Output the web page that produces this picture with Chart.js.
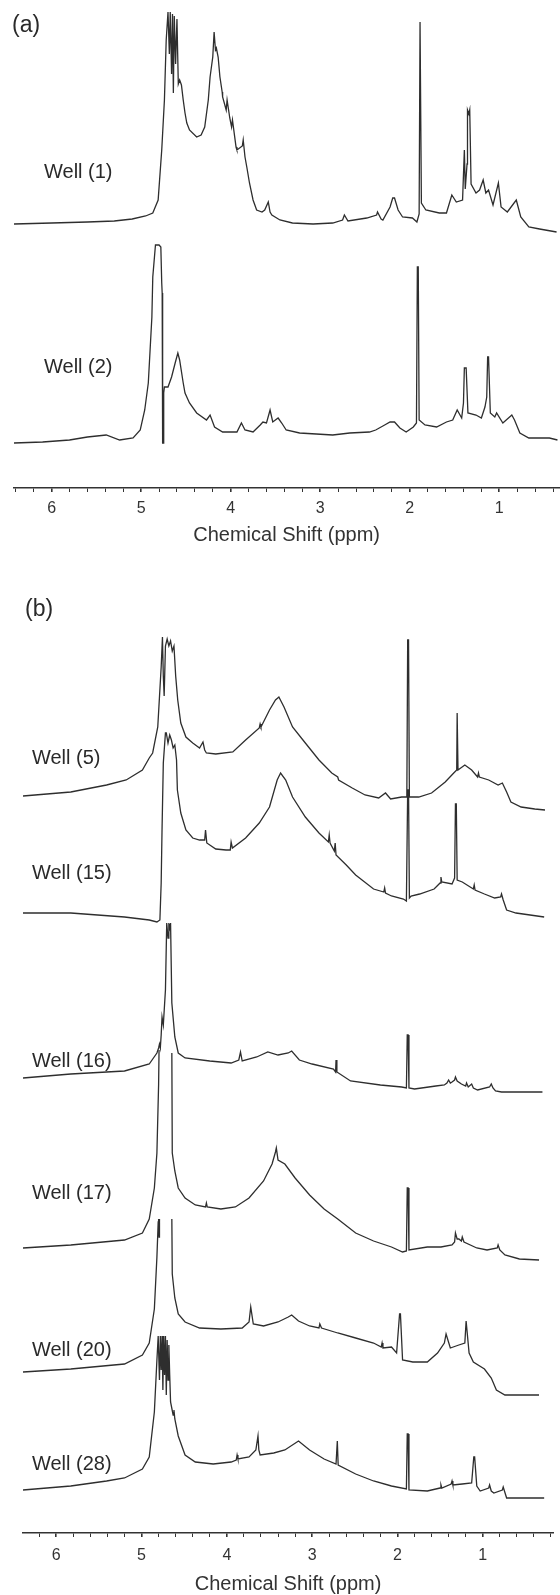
<!DOCTYPE html>
<html>
<head>
<meta charset="utf-8">
<script src="https://cdn.jsdelivr.net/npm/chart.js@4.4.0/dist/chart.umd.min.js"></script>
<style>
    body { margin: 0; background: #fff; }
    canvas { display: block; }
</style>
</head>
<body>
<canvas id="chartA" width="560" height="550"></canvas>
<canvas id="chartB" width="560" height="1045"></canvas>
<script>
// tick positions (ppm), only integers get a label
const tickValues = [6.4, 6.2, 6.0, 5.8, 5.6, 5.4, 5.2, 5.0, 4.8, 4.6, 4.4, 4.2, 4.0, 3.8, 3.6, 3.4, 3.2, 3.0,
    2.8, 2.6, 2.4, 2.2, 2.0, 1.8, 1.6, 1.4, 1.2, 1.0, 0.8, 0.6, 0.4, 0.2];

// panel (a)
const panelALabels = ['Well (1)', 'Well (2)'];
const panelAOffsets = [264, 45];
const panelALabelHeights = [316, 121];

// [ppm, intensity above its own baseline]
const well1 = [[6.42,0],[6.0,1],[5.6,2],[5.3,3],[5.1,5],[4.95,8],[4.87,11],[4.81,24],[4.77,74],[4.74,124],[4.72,184],
    [4.70,212],[4.685,170],[4.675,212],[4.66,150],[4.65,210],[4.64,131],[4.63,208],[4.615,160],[4.60,205],[4.585,140],
    [4.57,144],[4.55,139],[4.53,124],[4.51,111],[4.49,101],[4.46,94],[4.38,87],[4.33,89],[4.29,97],[4.25,124],[4.23,147],
    [4.20,167],[4.185,192],[4.17,174],[4.16,176],[4.14,167],[4.12,147],[4.095,132],[4.09,127],[4.05,114],[4.04,124],
    [4.01,106],[3.99,97],[3.98,104],[3.94,77],[3.93,74],[3.87,78],[3.86,84],[3.84,67],[3.82,57],[3.79,41],[3.75,24],
    [3.71,14],[3.65,12],[3.62,14],[3.58,22],[3.56,12],[3.54,9],[3.45,4],[3.31,1],[3.08,0],[2.86,1],[2.75,4],[2.73,9],
    [2.69,3],[2.48,6],[2.37,9],[2.36,12],[2.32,5],[2.30,4],[2.22,17],[2.19,26],[2.17,26],[2.13,14],[2.08,7],[1.97,6],
    [1.92,2],[1.895,10],[1.885,202],[1.878,202],[1.87,21],[1.82,14],[1.67,11],[1.59,11],[1.53,29],[1.48,22],[1.41,24],
    [1.39,74],[1.38,35],[1.36,60],[1.355,114],[1.34,110],[1.33,114],[1.315,40],[1.26,31],[1.22,34],[1.18,44],[1.15,31],
    [1.12,34],[1.07,19],[1.01,41],[0.98,17],[0.91,12],[0.81,24],[0.76,7],[0.67,-3],[0.55,-5],[0.36,-8]];

const well2 = [[6.42,0],[6.1,1],[5.8,3],[5.6,6],[5.39,8],[5.24,3],[5.09,5],[5.01,13],[4.96,33],[4.92,60],[4.90,93],
    [4.88,126],[4.87,166],[4.84,198],[4.80,198],[4.78,196],[4.77,160],[4.765,150],[4.76,0],[4.752,0],[4.748,50],
    [4.74,56],[4.70,56],[4.66,66],[4.62,80],[4.59,90],[4.57,83],[4.53,60],[4.51,50],[4.46,40],[4.38,30],[4.27,23],
    [4.23,28],[4.18,16],[4.09,11],[3.93,11],[3.88,20],[3.84,13],[3.75,11],[3.67,18],[3.64,21],[3.60,20],[3.56,33],
    [3.53,21],[3.47,25],[3.43,20],[3.38,13],[3.23,10],[2.86,8],[2.67,10],[2.45,11],[2.38,13],[2.28,18],[2.22,21],
    [2.17,21],[2.11,15],[2.04,11],[1.96,16],[1.925,20],[1.915,176],[1.905,176],[1.895,23],[1.83,18],[1.70,16],
    [1.59,21],[1.52,23],[1.47,33],[1.42,25],[1.40,40],[1.39,75],[1.37,75],[1.35,30],[1.26,28],[1.20,25],[1.16,36],
    [1.14,46],[1.13,86],[1.12,86],[1.10,30],[1.05,26],[1.03,30],[0.96,20],[0.86,28],[0.83,23],[0.77,10],[0.67,5],
    [0.44,5],[0.35,3]];

// panel (b)
const panelBLabels = ['Well (5)', 'Well (15)', 'Well (16)', 'Well (17)', 'Well (20)', 'Well (28)'];
const panelBOffsets = [737, 620, 455, 285, 161, 43];
const panelBLabelHeights = [775, 660, 472, 340, 183, 69];

const well5 = [[6.39,0],[5.83,4],[5.41,11],[5.18,16],[4.99,26],[4.91,38],[4.87,43],[4.81,69],[4.77,129],[4.755,159],
    [4.745,120],[4.735,100],[4.72,150],[4.70,157],[4.68,150],[4.66,155],[4.64,145],[4.62,150],[4.60,120],[4.576,96],
    [4.54,73],[4.48,59],[4.40,53],[4.32,48],[4.28,54],[4.26,46],[4.24,43],[4.13,42],[3.93,44],[3.78,56],[3.62,68],
    [3.61,72],[3.60,69],[3.50,86],[3.43,96],[3.39,99],[3.33,89],[3.23,69],[3.08,53],[2.92,36],[2.77,23],[2.70,19],
    [2.69,16],[2.53,8],[2.38,1],[2.22,-2],[2.14,3],[2.08,-3],[1.95,-1],[1.89,-1],[1.88,156],[1.87,156],[1.86,-1],
    [1.75,-1],[1.60,3],[1.44,14],[1.34,23],[1.305,26],[1.30,83],[1.295,83],[1.29,26],[1.21,31],[1.13,26],[1.06,19],
    [1.05,23],[1.04,19],[0.93,16],[0.82,11],[0.77,13],[0.72,4],[0.67,-6],[0.55,-11],[0.39,-13],[0.27,-14]];

const well15 = [[6.39,0],[5.83,0],[5.20,-4],[4.91,-7],[4.82,-9],[4.785,-7],[4.77,30],[4.76,83],[4.745,150],[4.72,180],
    [4.71,180],[4.69,170],[4.67,178],[4.65,173],[4.63,165],[4.61,168],[4.59,153],[4.58,123],[4.54,100],[4.48,83],
    [4.40,75],[4.32,73],[4.26,73],[4.25,83],[4.235,70],[4.13,64],[4.01,63],[3.96,63],[3.95,71],[3.935,65],[3.78,75],
    [3.62,90],[3.50,106],[3.41,133],[3.37,140],[3.31,133],[3.23,116],[3.08,96],[2.92,80],[2.81,71],[2.80,78],[2.79,70],
    [2.74,62],[2.73,70],[2.72,58],[2.60,48],[2.49,38],[2.28,24],[2.16,21],[2.15,25],[2.14,20],[2.07,17],[1.93,14],
    [1.895,12],[1.88,123],[1.87,123],[1.86,15],[1.84,17],[1.74,19],[1.57,24],[1.50,30],[1.49,36],[1.48,31],[1.36,29],
    [1.33,35],[1.32,109],[1.31,109],[1.30,33],[1.24,31],[1.11,24],[1.10,28],[1.09,23],[0.98,19],[0.86,15],[0.79,16],
    [0.78,19],[0.76,13],[0.72,3],[0.61,0],[0.28,-4]];

const well16 = [[6.39,0],[5.83,4],[5.20,7],[4.91,14],[4.82,25],[4.80,30],[4.79,34],[4.78,30],[4.77,43],[4.76,61],
    [4.745,53],[4.72,88],[4.705,155],[4.69,140],[4.68,155],[4.67,150],[4.66,155],[4.645,75],[4.61,41],[4.57,25],
    [4.49,20],[4.20,17],[3.95,15],[3.86,18],[3.84,26],[3.82,17],[3.65,21],[3.52,26],[3.40,23],[3.28,25],[3.24,27],
    [3.15,18],[3.00,14],[2.75,9],[2.725,6],[2.72,18],[2.71,6],[2.55,-3],[2.20,-7],[1.95,-9],[1.895,-10],[1.885,43],
    [1.875,43],[1.865,-10],[1.80,-11],[1.55,-8],[1.45,-7],[1.42,-5],[1.40,-2],[1.38,-5],[1.36,-4],[1.33,-2],[1.32,1],
    [1.30,-3],[1.25,-6],[1.20,-8],[1.19,-5],[1.17,-9],[1.13,-6],[1.11,-10],[1.06,-12],[0.92,-9],[0.90,-6],[0.88,-10],
    [0.85,-13],[0.78,-14],[0.30,-14]];

const well17 = [[6.39,0],[5.83,3],[5.20,8],[4.99,15],[4.91,29],[4.85,60],[4.82,95],[4.80,164],[4.795,198],[4.72,null],
    [4.645,195],[4.64,95],[4.61,77],[4.57,60],[4.49,50],[4.37,43],[4.25,41],[4.24,45],[4.23,41],[4.07,39],[3.90,41],
    [3.74,50],[3.57,67],[3.47,84],[3.43,96],[3.42,100],[3.40,88],[3.32,84],[3.20,70],[3.03,53],[2.86,39],[2.70,29],
    [2.49,15],[2.28,7],[2.07,1],[1.94,-4],[1.895,-3],[1.885,60],[1.875,60],[1.865,-2],[1.65,1],[1.49,1],[1.36,3],
    [1.33,6],[1.32,15],[1.30,9],[1.28,9],[1.25,7],[1.24,11],[1.22,6],[1.07,0],[0.95,-2],[0.83,0],[0.82,3],[0.80,-2],
    [0.74,-7],[0.57,-11],[0.34,-12]];

const well20 = [[6.39,0],[5.83,3],[5.20,8],[4.99,17],[4.91,29],[4.85,63],[4.82,115],[4.805,150],[4.80,153],[4.795,135],
    [4.79,153],[4.72,null],[4.645,153],[4.64,98],[4.61,74],[4.57,58],[4.49,50],[4.32,44],[4.07,43],[3.82,44],[3.74,50],
    [3.72,65],[3.69,48],[3.57,46],[3.40,50],[3.28,55],[3.24,57],[3.16,51],[3.03,46],[2.92,44],[2.91,48],[2.89,44],
    [2.70,39],[2.49,34],[2.28,29],[2.19,25],[2.18,29],[2.17,24],[2.07,25],[2.01,19],[1.975,58],[1.965,58],[1.94,12],
    [1.82,10],[1.65,10],[1.53,19],[1.45,29],[1.43,38],[1.38,24],[1.28,27],[1.21,29],[1.195,51],[1.185,51],[1.16,19],
    [1.11,10],[0.98,3],[0.90,-6],[0.84,-18],[0.74,-23],[0.34,-23]];

const well28 = [[6.39,0],[5.83,4],[5.41,9],[5.20,12],[4.99,21],[4.91,33],[4.85,78],[4.82,130],[4.805,154],[4.79,110],
    [4.78,154],[4.77,120],[4.76,154],[4.75,100],[4.74,154],[4.73,115],[4.72,154],[4.71,95],[4.70,150],[4.69,110],
    [4.68,145],[4.67,115],[4.66,88],[4.63,75],[4.62,80],[4.61,71],[4.57,54],[4.49,35],[4.37,28],[4.16,26],[3.95,28],
    [3.89,30],[3.88,35],[3.87,31],[3.74,33],[3.66,40],[3.635,54],[3.625,40],[3.61,35],[3.45,37],[3.32,40],[3.16,49],
    [3.03,40],[2.86,31],[2.72,26],[2.705,49],[2.695,25],[2.49,16],[2.28,9],[2.07,4],[1.895,1],[1.885,56],[1.875,56],
    [1.865,0],[1.65,-1],[1.50,2],[1.49,5],[1.48,2],[1.37,6],[1.36,9],[1.35,5],[1.24,6],[1.13,7],[1.105,33],[1.095,33],
    [1.07,4],[1.03,-1],[0.93,2],[0.92,5],[0.90,-1],[0.87,-3],[0.77,0],[0.76,3],[0.72,-8],[0.28,-8]];

const lineColor = '#2e2e2e';
const fontFamily = '"Liberation Sans", Arial, sans-serif';
Chart.defaults.font.family = fontFamily;

function makeDataset(points, offset) {
    return {
        data: points.map(p => ({ x: p[0], y: p[1] === null ? null : p[1] + offset })),
        borderColor: lineColor,
        borderWidth: 1.3,
        pointRadius: 0,
        tension: 0,
        spanGaps: false,
        fill: false
    };
}

function isMajor(v) {
    return Math.abs(v - Math.round(v)) < 1e-6;
}

// draws the well names (in data units) and the panel tag
function labelPlugin(id, labels, labelHeights, labelPpm, tag, tagX, tagY) {
    return {
        id: id,
        afterDraw(chart) {
            const ctx = chart.ctx;
            const xs = chart.scales.x;
            const ys = chart.scales.y;
            ctx.save();
            ctx.fillStyle = '#2a2a2a';
            ctx.textBaseline = 'middle';
            ctx.textAlign = 'left';
            ctx.font = '20px ' + fontFamily;
            labels.forEach((label, i) => {
                ctx.fillText(label, xs.getPixelForValue(labelPpm), ys.getPixelForValue(labelHeights[i]));
            });
            ctx.font = '23px ' + fontFamily;
            ctx.fillText(tag, tagX, tagY);
            ctx.restore();
        }
    };
}

function makeOptions(xMin, xMax, yMax, padding, tickPadding) {
    return {
        responsive: false,
        animation: false,
        layout: { padding: padding },
        plugins: { legend: { display: false }, tooltip: { enabled: false } },
        scales: {
            x: {
                type: 'linear',
                reverse: true,
                min: xMin,
                max: xMax,
                afterBuildTicks: scale => {
                    scale.ticks = tickValues.filter(v => v >= xMin - 1e-9 && v <= xMax + 1e-9).map(v => ({ value: v }));
                },
                ticks: {
                    autoSkip: false,
                    maxRotation: 0,
                    padding: tickPadding,
                    color: '#333',
                    font: { size: 16 },
                    callback: v => isMajor(v) ? String(Math.round(v)) : ''
                },
                grid: {
                    drawOnChartArea: false,
                    drawTicks: true,
                    tickLength: 4,
                    color: '#333',
                    lineWidth: c => (c.tick && isMajor(c.tick.value)) ? 1.6 : 1
                },
                border: { display: true, color: '#333', width: 1.5 },
                title: {
                    display: true,
                    text: 'Chemical Shift (ppm)',
                    color: '#333',
                    font: { size: 20, lineHeight: 1 },
                    padding: { top: 0, bottom: 0 }
                }
            },
            y: { type: 'linear', display: false, min: 0, max: yMax }
        }
    };
}

new Chart(document.getElementById('chartA'), {
    type: 'line',
    data: { datasets: [makeDataset(well1, panelAOffsets[0]), makeDataset(well2, panelAOffsets[1])] },
    options: makeOptions(0.33, 6.42, 488, { left: 14, right: 0, top: 0, bottom: 4.8 }, 7),
    plugins: [labelPlugin('labelsA', panelALabels, panelALabelHeights, 6.085, '(a)', 12, 26)]
});

new Chart(document.getElementById('chartB'), {
    type: 'line',
    data: {
        datasets: [well5, well15, well16, well17, well20, well28].map((w, i) => makeDataset(w, panelBOffsets[i]))
    },
    options: makeOptions(0.175, 6.39, 983, { left: 23, right: 5, top: 0, bottom: 0.8 }, 9),
    plugins: [labelPlugin('labelsB', panelBLabels, panelBLabelHeights, 6.285, '(b)', 25, 60)]
});
</script>
</body>
</html>
